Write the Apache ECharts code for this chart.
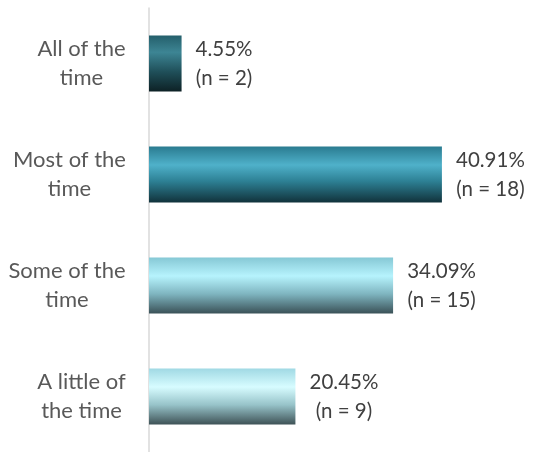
<!DOCTYPE html>
<html><head><meta charset="utf-8">
<script src="https://cdn.jsdelivr.net/npm/echarts@6/dist/echarts.min.js"></script>
<style>html,body{margin:0;padding:0;background:#fff}#c{width:536px;height:452px}</style>
</head><body><div id="c"></div>
<script>
var categories = ['All of the\ntime', 'Most of the\ntime', 'Some of the\ntime', 'A little of\nthe time'];
var percents = [4.55, 40.91, 34.09, 20.45];
var counts = [2, 18, 15, 9];

var gradients = [
  [['#245f6b',0],['#3d8594',0.3],['#1f4f59',0.65],['#0d2125',1]],
  [['#2a7b90',0],['#4fb1ca',0.33],['#2d8094',0.62],['#11323b',1]],
  [['#86c8d5',0],['#b6f3fd',0.33],['#7fb5c0',0.65],['#3a5157',1]],
  [['#a0d9e4',0],['#d7fcff',0.33],['#97c3c9',0.65],['#3e5256',1]]
];
function grad(g){
  return new echarts.graphic.LinearGradient(0,0,0,1, g.map(function(s){return {offset:s[1], color:s[0]};}));
}
var font = 'Lato, "Open Sans", sans-serif';
var catSize = 22, valSize = 20.5;
var ctx = document.createElement('canvas').getContext('2d');
function blockWidth(text, size){
  ctx.font = size + 'px ' + font;
  return Math.max.apply(null, text.split('\n').map(function(l){return ctx.measureText(l).width;}));
}
function centeredRich(texts, size, color){
  var rich = {};
  texts.forEach(function(t, i){
    rich['c'+i] = {width: Math.ceil(blockWidth(t, size)), align:'center', color:color, fontFamily:font, fontSize:size, lineHeight:29};
  });
  return rich;
}
function wrap(t, i){ return t.split('\n').map(function(l){return '{c'+i+'|'+l+'}';}).join('\n'); }
var valTexts = percents.map(function(p,i){return p.toFixed(2)+'%\n(n = '+counts[i]+')';});

var chart = echarts.init(document.getElementById('c'));
chart.setOption({
  animation:false,
  grid:{left:149, top:8, bottom:0, right:29, containLabel:false},
  xAxis:{type:'value', min:0, max:50, show:false},
  yAxis:{type:'category', inverse:true, data:categories,
    axisLine:{show:true, lineStyle:{color:'#d9d9d9', width:1.5}},
    axisTick:{show:false},
    axisLabel:{margin:23, color:'#595959', fontFamily:font, fontSize:catSize, lineHeight:29,
      formatter:function(v, i){return wrap(v, i);},
      rich:centeredRich(categories, catSize, '#595959')}
  },
  series:[{type:'bar', barWidth:56,
    data: percents.map(function(p,i){return {value:p, itemStyle:{color:grad(gradients[i])}};}),
    label:{show:true, position:'right', distance:14, fontFamily:font, fontSize:valSize, lineHeight:29, color:'#404040',
      formatter:function(p){return wrap(valTexts[p.dataIndex], p.dataIndex);},
      rich:centeredRich(valTexts, valSize, '#404040')}
  }]
});
</script></body></html>
